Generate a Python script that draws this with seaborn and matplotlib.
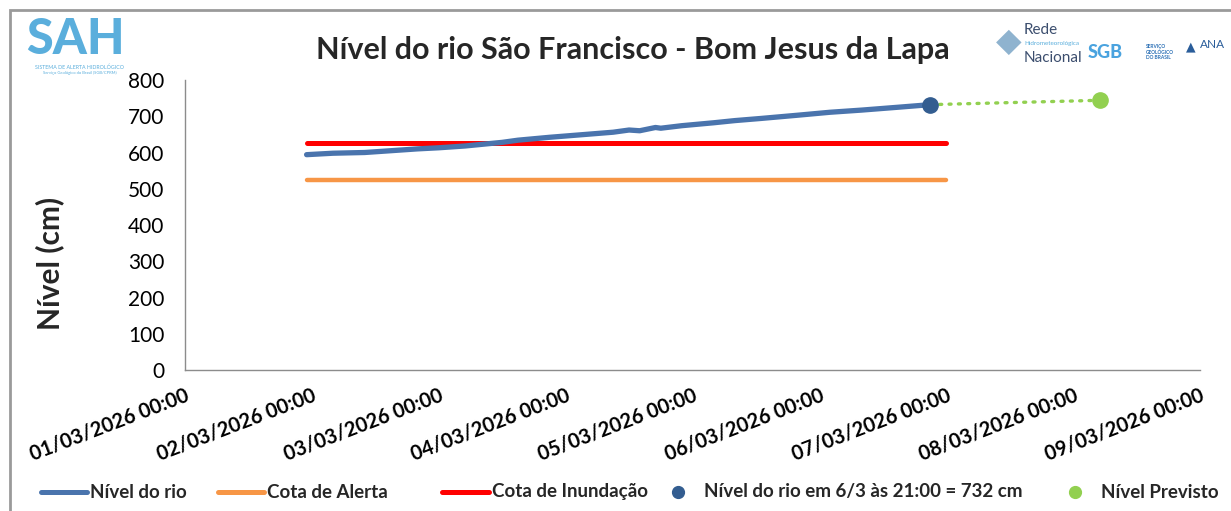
import matplotlib
matplotlib.use("Agg")
import matplotlib.pyplot as plt
import matplotlib.dates as mdates
from matplotlib.lines import Line2D
from matplotlib.patches import Rectangle
import seaborn as sns
import pandas as pd
import numpy as np

# ---- data ----
nivel_times = ["2026-03-01 23:00", "2026-03-02 04:00", "2026-03-02 10:00", "2026-03-02 14:00",
               "2026-03-02 20:00", "2026-03-03 00:00", "2026-03-03 05:00", "2026-03-03 12:00",
               "2026-03-03 15:00", "2026-03-03 21:00", "2026-03-04 03:00", "2026-03-04 09:00",
               "2026-03-04 12:00", "2026-03-04 14:00", "2026-03-04 17:00", "2026-03-04 18:00",
               "2026-03-04 22:00", "2026-03-05 04:00", "2026-03-05 08:00", "2026-03-05 13:00",
               "2026-03-05 20:00", "2026-03-06 02:00", "2026-03-06 08:00", "2026-03-06 15:00",
               "2026-03-06 21:00"]
nivel_values = [594, 598, 600, 604, 610, 613, 618, 628, 634, 642, 649, 656, 662, 660, 669, 667,
                674, 682, 688, 694, 703, 711, 717, 725, 732]
cota_times = ["2026-03-01 23:00", "2026-03-07 00:00"]
cota_alerta = [525, 525]
cota_inundacao = [625, 625]
atual_time = ["2026-03-06 21:00"]
atual_value = [732]
previsto_times = ["2026-03-06 21:00", "2026-03-08 05:00"]
previsto_values = [732, 744]
x_start, x_end = "2026-03-01", "2026-03-09"
y_ticks = [0, 100, 200, 300, 400, 500, 600, 700, 800]

title = "Nível do rio São Francisco - Bom Jesus da Lapa"
ylabel = "Nível (cm)"
legend_labels = ["Nível do rio", "Cota de Alerta", "Cota de Inundação",
                 "Nível do rio em 6/3 às 21:00 = 732 cm", "Nível Previsto"]

# ---- style ----
sns.set_style("white")
plt.rcParams["font.family"] = ["Lato", "DejaVu Sans"]

c_blue = "#4a74ad"
c_blue_pt = "#335d90"
c_orange = "#f79646"
c_red = "#ff0000"
c_green = "#92d050"
c_axis = "#8c8c8c"

W, H = 1231, 511
fig = plt.figure(figsize=(W / 100, H / 100), dpi=100)
ax = fig.add_axes([185 / W, 1 - 370 / H, (1200 - 185) / W, (370 - 80) / H])

def fx(px):
    return px / W

def fy(py):
    return 1 - py / H

df_n = pd.DataFrame({"t": pd.to_datetime(nivel_times), "v": nivel_values})
df_c = pd.DataFrame({"t": pd.to_datetime(cota_times), "a": cota_alerta, "i": cota_inundacao})
df_p = pd.DataFrame({"t": pd.to_datetime(previsto_times), "v": previsto_values})

sns.lineplot(data=df_c, x="t", y="a", ax=ax, color=c_orange, linewidth=3.2,
             solid_capstyle="round")
sns.lineplot(data=df_c, x="t", y="i", ax=ax, color=c_red, linewidth=3.6,
             solid_capstyle="round")
sns.lineplot(data=df_n, x="t", y="v", ax=ax, color=c_blue, linewidth=3.8,
             solid_capstyle="round")
ax.plot(df_p["t"], df_p["v"], color=c_green, linewidth=2.4, linestyle=(0, (0.6, 2.2)),
        dash_capstyle="round", zorder=3)
ax.plot(pd.to_datetime(atual_time), atual_value, "o", color=c_blue_pt, markersize=11, zorder=5)
ax.plot(df_p["t"].iloc[-1:], df_p["v"].iloc[-1:], "o", color=c_green, markersize=11, zorder=5)

ax.set_xlim(pd.Timestamp(x_start), pd.Timestamp(x_end))
ax.set_ylim(0, 800)
ax.set_yticks(y_ticks)
ax.xaxis.set_major_locator(mdates.DayLocator())
ax.xaxis.set_major_formatter(mdates.DateFormatter("%d/%m/%Y %H:%M"))
ax.set_xlabel("")
ax.set_ylabel("")

for s in ["top", "right"]:
    ax.spines[s].set_visible(False)
for s in ["left", "bottom"]:
    ax.spines[s].set_color(c_axis)
    ax.spines[s].set_linewidth(1.0)

ax.tick_params(axis="y", direction="out", length=6, width=1, color=c_axis,
               labelsize=15, labelcolor="black", pad=9)
ax.tick_params(axis="x", direction="out", length=6, width=1, color=c_axis,
               labelsize=14.5, labelcolor="black", pad=5)
for lab in ax.get_xticklabels():
    lab.set_rotation(21)
    lab.set_ha("right")
    lab.set_rotation_mode("anchor")
    lab.set_fontweight("bold")

fig.text(fx(633), fy(50), title, ha="center", va="center", fontsize=22, fontweight="bold")
fig.text(fx(50), fy(263), ylabel, ha="center", va="center", rotation=90,
         fontsize=21.5, fontweight="bold")

# legend (drawn as figure artists)
ly = fy(492)
leg_lines = [(41, 87, c_blue), (218, 264, c_orange), (442, 489, c_red)]
for (x0, x1, c) in leg_lines:
    fig.add_artist(Line2D([fx(x0), fx(x1)], [ly, ly], color=c, lw=3.6,
                          solid_capstyle="round", transform=fig.transFigure))
fig.add_artist(Line2D([fx(678)], [ly], color=c_blue_pt, marker="o", markersize=8.5,
                      linestyle="none", transform=fig.transFigure))
fig.add_artist(Line2D([fx(1075)], [ly], color=c_green, marker="o", markersize=8.5,
                      linestyle="none", transform=fig.transFigure))
for xt, lab in zip([90, 267, 492, 704, 1101], legend_labels):
    fig.text(fx(xt), ly, lab, ha="left", va="center", fontsize=13.5, fontweight="bold")

# frame
fig.patches.append(Rectangle((fx(10), -0.2), 1.2, 1.2 - 10 / H, transform=fig.transFigure,
                             fill=False, edgecolor="#9a9a9a", linewidth=2.0, zorder=0))

# logo approximations
fig.text(fx(26), fy(39), "SAH", ha="left", va="center", fontsize=35,
         fontweight="black", color="#5aaedc")
fig.text(fx(80), fy(67), "SISTEMA DE ALERTA HIDROLÓGICO", ha="center", va="center",
         fontsize=3.8, color="#5aaedc")
fig.text(fx(80), fy(73), "Serviço Geológico do Brasil (SGB/CPRM)", ha="center",
         va="center", fontsize=3, color="#5aaedc")
fig.text(fx(996), fy(42), "◆", ha="left", va="center", fontsize=24, color="#8fb3cf")
fig.text(fx(1024), fy(30), "Rede", ha="left", va="center", fontsize=11, color="#3c4e6e")
fig.text(fx(1024), fy(44), "Hidrometeorológica", ha="left", va="center", fontsize=4.5,
         color="#5aaedc")
fig.text(fx(1024), fy(58), "Nacional", ha="left", va="center", fontsize=11,
         color="#3c4e6e")
fig.text(fx(1088), fy(52), "SGB", ha="left", va="center", fontsize=13,
         fontweight="black", color="#4aa3df")
fig.text(fx(1146), fy(52), "SERVIÇO\nGEOLÓGICO\nDO BRASIL", ha="left", va="center",
         fontsize=3.5, fontweight="bold", color="#2a6fb5", linespacing=1.1)
fig.text(fx(1186), fy(46), "▲", ha="left", va="center", fontsize=9, color="#2a5d9a")
fig.text(fx(1200), fy(45), "ANA", ha="left", va="center", fontsize=8.5,
         color="#2a5d9a")

fig.savefig("out.png", dpi=100)
